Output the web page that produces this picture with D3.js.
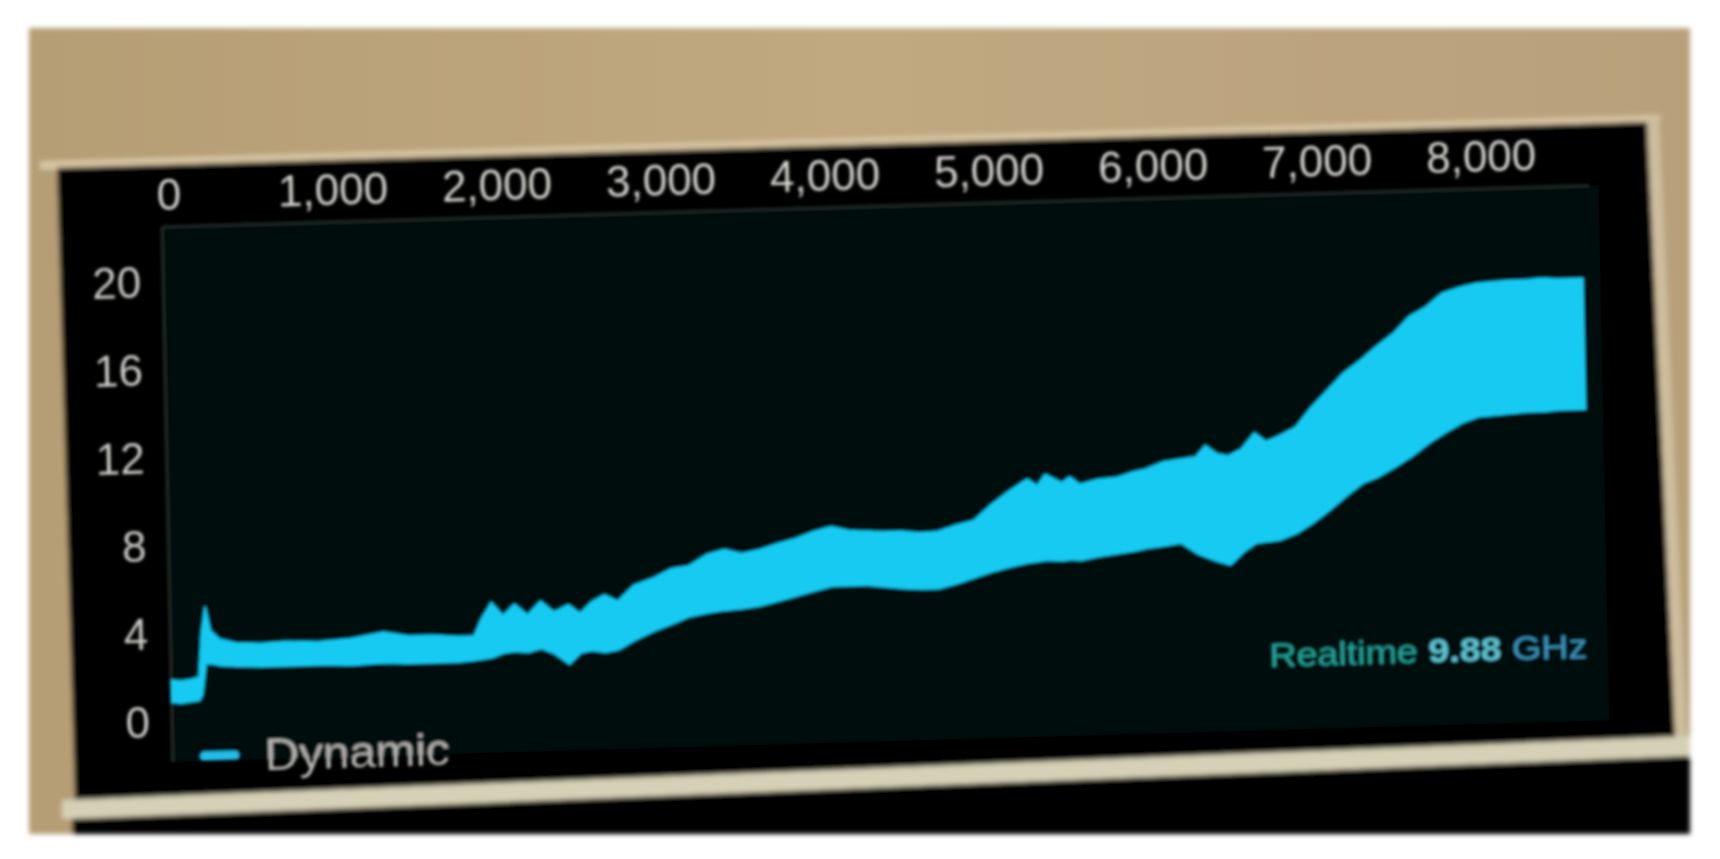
<!DOCTYPE html>
<html><head><meta charset="utf-8">
<script src="https://cdn.jsdelivr.net/npm/d3@7"></script>
<style>html,body{margin:0;padding:0;background:#fff;overflow:hidden}</style>
</head><body>
<svg id="c" width="1720" height="859"></svg>
<script>
// ---- data ----
const xValues = [0,60,120,170,190,215,245,300,400,550,700,900,1100,1300,1450,1600,1750,1850,1900,1960,2030,2100,2180,2260,2340,2430,2500,2570,2650,2730,2830,2950,3060,3165,3280,3385,3490,3600,3710,3820,3930,4040,4150,4255,4365,4475,4580,4690,4800,4910,5020,5130,5240,5300,5350,5450,5500,5560,5670,5780,5890,5960,6070,6170,6270,6330,6400,6470,6550,6630,6700,6770,6880,6980,7080,7180,7290,7380,7490,7590,7690,7790,7900,8000,8100,8200,8300,8400,8500,8650];
const upperValues = [1.9,1.85,1.9,2.0,4.0,5.2,4.1,3.7,3.5,3.45,3.5,3.45,3.55,3.8,3.6,3.6,3.5,3.5,4.3,5.0,4.4,4.9,4.4,5.0,4.5,4.8,4.4,4.9,5.2,4.9,5.6,5.9,6.3,6.4,6.9,7.1,6.9,7.05,7.3,7.5,7.8,8.0,7.8,7.75,7.7,7.7,7.6,7.65,7.9,8.1,8.8,9.4,9.9,9.6,10.1,9.7,9.95,9.6,9.8,9.85,10.1,10.2,10.5,10.6,10.7,11.2,10.8,10.7,11.0,11.7,11.3,11.5,11.9,12.8,13.55,14.3,14.9,15.45,16.05,16.8,17.2,17.8,18.05,18.2,18.25,18.3,18.3,18.35,18.3,18.3];
const lowerValues = [0.9,0.85,0.9,0.95,1.2,2.6,2.6,2.5,2.45,2.4,2.4,2.4,2.35,2.4,2.35,2.35,2.35,2.4,2.45,2.5,2.7,2.75,2.7,2.85,2.6,2.1,2.6,2.7,2.6,2.7,3.1,3.5,3.8,4.1,4.25,4.35,4.4,4.5,4.7,4.9,5.1,5.3,5.3,5.3,5.2,5.1,5.05,5.05,5.25,5.5,5.75,5.95,6.1,6.15,6.2,6.15,6.2,6.15,6.3,6.4,6.5,6.6,6.7,6.8,6.3,6.1,5.9,5.75,6.3,6.7,6.75,6.8,7.1,7.55,8.1,8.7,9.3,9.55,10.0,10.45,11.0,11.45,11.9,12.15,12.2,12.25,12.3,12.3,12.35,12.35];
const xTickValues = [0,1000,2000,3000,4000,5000,6000,7000,8000];
const yTickValues = [0,4,8,12,16,20];
const seriesName = "Dynamic";
const statusParts = ["Realtime", "9.88", "GHz"];

const data = xValues.map((x,i)=>({x, hi: upperValues[i], lo: lowerValues[i]}));

const svg = d3.select("#c");
const defs = svg.append("defs");
defs.append("filter").attr("id","blur").attr("x","-5%").attr("y","-5%").attr("width","110%").attr("height","110%")
  .append("feGaussianBlur").attr("stdDeviation",1.7);
defs.append("filter").attr("id","blur2").append("feGaussianBlur").attr("stdDeviation",2.5);
const wall = defs.append("linearGradient").attr("id","wall").attr("x1",0).attr("x2",1).attr("y1",0).attr("y2",0);
wall.append("stop").attr("offset",0).attr("stop-color","#b59d74");
wall.append("stop").attr("offset",0.5).attr("stop-color","#c0a881");
wall.append("stop").attr("offset",1).attr("stop-color","#b8a07c");

// photo background
const photo = svg.append("g").attr("filter","url(#blur2)");
photo.append("rect").attr("x",29).attr("y",28).attr("width",1661).attr("height",806).attr("fill","url(#wall)");
photo.append("polygon").attr("points","40,161 1660,115 1660,122 40,170").attr("fill","#d6c4a2");
photo.append("polygon").attr("points","1647,118 1659,118 1687,740 1675,740").attr("fill","#cdbd9e");
photo.append("polygon").attr("points","57,168 1647,122 1675,738 75,800").attr("fill","#040504");
photo.append("polygon").attr("points","62,800 1690,736 1690,756 62,819").attr("fill","#d6d0b6");
photo.append("polygon").attr("points","72,819 1690,756 1690,834 72,834").attr("fill","#050505");

// chart
const W = 1427, H = 495;
const x = d3.scaleLinear().domain([0,8700]).range([0,W]);
const y = d3.scaleLinear().domain([0,22.5]).range([H,0]);

const g = svg.append("g").attr("transform","matrix(1,-0.029,0.02,1,162.1,227)").attr("filter","url(#blur)");
g.append("rect").attr("x",0).attr("y",0).attr("width",W+10).attr("height",H+40).attr("fill","#060a08");
g.append("line").attr("x1",0).attr("x2",W).attr("y1",0).attr("y2",0).attr("stroke","#1f2b28").attr("stroke-width",3);
g.append("line").attr("x1",0).attr("x2",0).attr("y1",0).attr("y2",H+40).attr("stroke","#222a28").attr("stroke-width",3);

const area = d3.area().x(d=>x(d.x)).y0(d=>y(d.lo)).y1(d=>y(d.hi));
g.append("path").datum(data).attr("d",area).attr("fill","#12caf2").attr("stroke","#12caf2").attr("stroke-width",1.5);

const font = "'Liberation Sans', Arial, sans-serif";
const xAxis = g.append("g").call(d3.axisTop(x).tickValues(xTickValues).tickFormat(d3.format(",")).tickSize(0).tickPadding(17));
xAxis.select(".domain").remove();
xAxis.selectAll("text").attr("font-size",44).attr("font-family",font).attr("fill","#d2d2cf").attr("dx",7);

const yAxis = g.append("g").call(d3.axisLeft(y).tickValues(yTickValues).tickSize(0).tickPadding(22));
yAxis.select(".domain").remove();
yAxis.selectAll("text").attr("font-size",44).attr("font-family",font).attr("fill","#c9c9c6");

// legend
g.append("line").attr("x1",32).attr("x2",62).attr("y1",530).attr("y2",530).attr("stroke","#22bde8").attr("stroke-width",9).attr("stroke-linecap","round");
g.append("text").attr("x",92).attr("y",546).attr("font-size",44).attr("font-family",font).attr("fill","#b4b4b1")
  .attr("textLength",185).attr("lengthAdjust","spacingAndGlyphs").text(seriesName);

// status text
const st = g.append("text").attr("x",1098).attr("y",472).attr("font-size",34).attr("font-family",font)
  .attr("textLength",318).attr("lengthAdjust","spacingAndGlyphs");
st.append("tspan").attr("fill","#24a59a").text(statusParts[0] + " ");
st.append("tspan").attr("fill","#5cc3d2").attr("font-weight","bold").text(statusParts[1] + " ");
st.append("tspan").attr("fill","#3a97bd").text(statusParts[2]);
</script>
</body></html>
